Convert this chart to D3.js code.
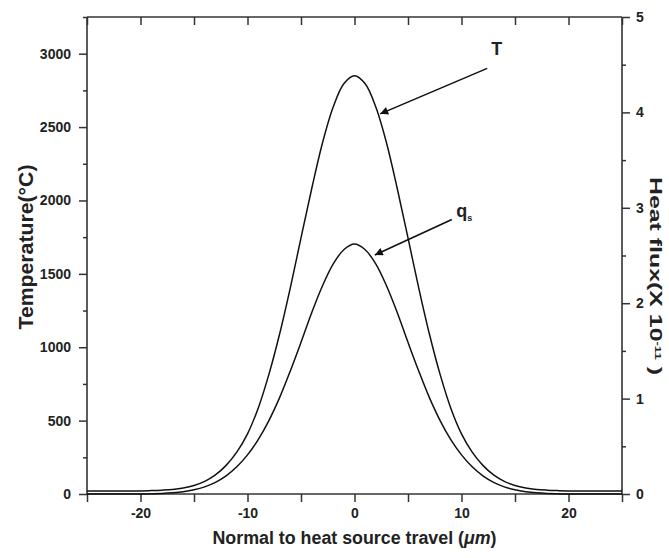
<!DOCTYPE html>
<html>
<head>
<meta charset="utf-8">
<script src="https://cdn.jsdelivr.net/npm/d3@7"></script>
<style>
  body { margin: 0; background: #fff; }
  text { font-family: "Liberation Sans", Arial, sans-serif; font-weight: bold; fill: #222; }
</style>
</head>
<body>
<svg id="chart"></svg>
<script>
const size = {w: 669, h: 558};
const margin = {t: 17, r: 47, b: 64, l: 87};

// distance normal to heat source travel (um)
const xPos = [-25, -24, -23, -22, -21, -20, -19, -18, -17, -16, -15, -14, -13, -12, -11, -10,
  -9, -8, -7, -6, -5, -4, -3, -2, -1, 0, 1, 2, 3, 4, 5, 6, 7, 8, 9,
  10, 11, 12, 13, 14, 15, 16, 17, 18, 19, 20, 21, 22, 23, 24, 25];

// temperature (C), left axis
const temperature = [20, 20, 20, 20, 20, 21, 23, 26, 31, 41, 58, 86, 130, 195, 285, 410,
  585, 815, 1090, 1405, 1745, 2080, 2390, 2635, 2795, 2850, 2795, 2635, 2390, 2080, 1745, 1405, 1090, 815, 585,
  410, 285, 195, 130, 86, 58, 41, 31, 26, 23, 21, 20, 20, 20, 20, 20];

// heat flux q_s (x 10^-11), right axis
const heatFlux = [0, 0, 0, 0, 0, 0, 0.002, 0.005, 0.012, 0.024, 0.044, 0.075, 0.122, 0.19, 0.285, 0.41,
  0.57, 0.77, 1.01, 1.29, 1.59, 1.90, 2.18, 2.41, 2.56, 2.62, 2.56, 2.41, 2.18, 1.90, 1.59, 1.29, 1.01, 0.77, 0.57,
  0.41, 0.285, 0.19, 0.122, 0.075, 0.044, 0.024, 0.012, 0.005, 0.002, 0, 0, 0, 0, 0, 0];

const xTicks = [-25, -20, -15, -10, -5, 0, 5, 10, 15, 20, 25];
const xLabels = [-20, -10, 0, 10, 20];
const tempTicks = [0, 500, 1000, 1500, 2000, 2500, 3000];
const tempMinor = [250, 750, 1250, 1750, 2250, 2750, 3250];
const fluxTicks = [0, 1, 2, 3, 4, 5];
const fluxMinor = [0.5, 1.5, 2.5, 3.5, 4.5];

// arrow annotations, in data units (x, temperature)
const notes = [
  {label: 'T', sub: '', tx: 13.3, ty: 2990, x1: 12.4, y1: 2900, x2: 2.4, y2: 2590},
  {label: 'q', sub: 's', tx: 9.5, ty: 1885, x1: 9.1, y1: 1870, x2: 1.9, y2: 1628}
];

const svg = d3.select('svg#chart')
    .attr('width', size.w)
    .attr('height', size.h);

const x = d3.scaleLinear().domain([-25, 25]).range([margin.l, size.w - margin.r]);
const yT = d3.scaleLinear().domain([0, 3250]).range([size.h - margin.b, margin.t]);
const yQ = d3.scaleLinear().domain([0, 5]).range([size.h - margin.b, margin.t]);

const axisColor = '#333';
const bottom = size.h - margin.b;
const right = size.w - margin.r;

// frame lines
const frame = svg.append('g').attr('stroke', axisColor).attr('stroke-width', 1.6);
frame.append('line').attr('x1', x(-25)).attr('x2', x(25)).attr('y1', yT(3250)).attr('y2', yT(3250));
frame.append('line').attr('x1', x(-25)).attr('x2', x(25)).attr('y1', bottom).attr('y2', bottom);
frame.append('line').attr('x1', x(-25)).attr('x2', x(-25)).attr('y1', yT(0)).attr('y2', yT(3250));
frame.append('line').attr('x1', right).attr('x2', right).attr('y1', yT(0)).attr('y2', yT(3250));

// bottom axis
svg.append('g')
    .attr('transform', `translate(0, ${bottom})`)
    .call(d3.axisBottom(x).tickValues(xTicks).tickSize(8).tickPadding(6)
        .tickFormat(d => xLabels.includes(d) ? d : ''));

// top ticks, inside
svg.append('g')
    .attr('transform', `translate(0, ${margin.t})`)
    .call(d3.axisBottom(x).tickValues(xTicks).tickSize(8).tickFormat(''));

// left axis
svg.append('g')
    .attr('transform', `translate(${margin.l}, 0)`)
    .call(d3.axisLeft(yT).tickValues(tempTicks).tickSize(8).tickPadding(8).tickFormat(d3.format('d')));
svg.append('g')
    .attr('transform', `translate(${margin.l}, 0)`)
    .call(d3.axisLeft(yT).tickValues(tempMinor).tickSize(4).tickFormat(''));

// right axis
svg.append('g')
    .attr('transform', `translate(${right}, 0)`)
    .call(d3.axisRight(yQ).tickValues(fluxTicks).tickSize(8).tickPadding(6).tickFormat(d3.format('d')));
svg.append('g')
    .attr('transform', `translate(${right}, 0)`)
    .call(d3.axisRight(yQ).tickValues(fluxMinor).tickSize(4).tickFormat(''));

svg.selectAll('.domain').remove();
svg.selectAll('.tick line').attr('stroke', axisColor).attr('stroke-width', 1.5);
svg.selectAll('.tick text').style('font-size', '14px').attr('fill', '#222');

// curves
const tLine = d3.line()
    .x((d, i) => x(xPos[i]))
    .y(d => yT(d))
    .curve(d3.curveCatmullRom);
const qLine = d3.line()
    .x((d, i) => x(xPos[i]))
    .y(d => yQ(d))
    .curve(d3.curveCatmullRom);

svg.append('path')
    .attr('d', tLine(temperature))
    .attr('fill', 'none').attr('stroke', '#111').attr('stroke-width', 1.5);
svg.append('path')
    .attr('d', qLine(heatFlux))
    .attr('fill', 'none').attr('stroke', '#111').attr('stroke-width', 1.5);

// arrowheads
svg.append('defs').append('marker')
    .attr('id', 'arrow')
    .attr('viewBox', '0 0 10 10')
    .attr('refX', 10).attr('refY', 5)
    .attr('markerWidth', 12).attr('markerHeight', 8)
    .attr('markerUnits', 'userSpaceOnUse')
    .attr('orient', 'auto')
    .append('path')
    .attr('d', 'M0,0 L10,5 L0,10 Z')
    .attr('fill', '#111');

const ann = svg.append('g').selectAll('g')
    .data(notes)
    .join('g');
ann.append('line')
    .attr('x1', d => x(d.x1)).attr('y1', d => yT(d.y1))
    .attr('x2', d => x(d.x2)).attr('y2', d => yT(d.y2))
    .attr('stroke', '#111').attr('stroke-width', 1.6)
    .attr('marker-end', 'url(#arrow)');
const lbl = ann.append('text')
    .attr('x', d => x(d.tx)).attr('y', d => yT(d.ty))
    .attr('text-anchor', d => d.sub ? 'start' : 'middle')
    .style('font-size', '18px');
lbl.append('tspan').text(d => d.label);
lbl.append('tspan')
    .attr('dy', 4)
    .style('font-size', '9px')
    .text(d => d.sub);

// axis titles
svg.append('text')
    .attr('x', x(0)).attr('y', size.h - 14)
    .attr('text-anchor', 'middle')
    .attr('textLength', 284)
    .attr('lengthAdjust', 'spacingAndGlyphs')
    .style('font-size', '18px')
    .html('Normal to heat source travel (<tspan font-style="italic">μm</tspan>)');

svg.append('text')
    .attr('transform', 'translate(33, 247) rotate(-90)')
    .attr('text-anchor', 'middle')
    .attr('textLength', 165)
    .attr('lengthAdjust', 'spacingAndGlyphs')
    .style('font-size', '21px')
    .text('Temperature(°C)');

const rt = svg.append('text')
    .attr('transform', 'translate(650, 276) rotate(90)')
    .attr('text-anchor', 'middle')
    .attr('textLength', 198)
    .attr('lengthAdjust', 'spacingAndGlyphs')
    .style('font-size', '17px');
rt.append('tspan').text('Heat flux(X 10');
rt.append('tspan').attr('dy', -5).style('font-size', '9px').text('-11');
rt.append('tspan').attr('dy', 5).text(' )');
</script>
</body>
</html>
